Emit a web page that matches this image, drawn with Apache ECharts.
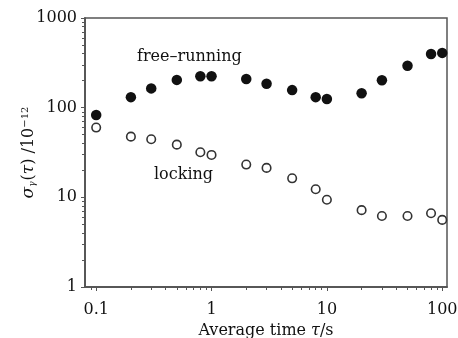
<!DOCTYPE html>
<html>
<head>
<meta charset="utf-8">
<script src="https://cdn.jsdelivr.net/npm/echarts@6/dist/echarts.min.js"></script>
<style>
  html, body { margin: 0; padding: 0; background: #fff; }
  #chart { width: 458px; height: 338px; }
</style>
</head>
<body>
<div id="chart"></div>
<script>
// averaging times (s)
const tau = [0.1, 0.2, 0.3, 0.5, 0.8, 1, 2, 3, 5, 8, 10, 20, 30, 50, 80, 100];
// Allan deviation, units of 1e-12
const freeRunning = [83, 131, 164, 204, 224, 224, 209, 185, 157, 131, 125, 145, 202, 294, 397, 408];
const locking = [60, 47.5, 44.5, 38.7, 31.8, 29.7, 23.2, 21.3, 16.3, 12.3, 9.4, 7.2, 6.2, 6.2, 6.65, 5.6];

// major ticks and minor ticks
const xMajor = [0.1, 1, 10, 100];
const xMinor = [0.09, 0.2, 0.3, 0.4, 0.5, 0.6, 0.7, 0.8, 0.9, 2, 3, 4, 5, 6, 7, 8, 9, 20, 30, 40, 50, 60, 70, 80, 90];
const yMajor = [1, 10, 100, 1000];
const yMinor = [2, 3, 4, 5, 6, 7, 8, 9, 20, 30, 40, 50, 60, 70, 80, 90, 200, 300, 400, 500, 600, 700, 800, 900];

const font = "DejaVu Serif";
const axisColor = "#555";
const X_MIN = 0.08, X_MAX = 110;

const chart = echarts.init(document.getElementById("chart"), null, { renderer: "canvas" });

const option = {
  backgroundColor: "#fff",
  animation: false,
  grid: {
    left: 85,
    right: 11,
    top: 18,
    bottom: 51,
    show: true,
    borderColor: axisColor,
    borderWidth: 1.5,
    containLabel: false,
    outerBoundsMode: "none",
  },
  xAxis: [
    {
      type: "log",
      logBase: 10,
      min: X_MIN,
      max: X_MAX,
      name: "Average time {i|τ}/s",
      nameLocation: "middle",
      nameGap: 35,
      nameTextStyle: {
        fontFamily: font,
        fontSize: 16,
        color: "#111",
        rich: { i: { fontFamily: font, fontSize: 16, fontStyle: "italic", color: "#111" } },
      },
      axisLine: { lineStyle: { color: axisColor, width: 1.5 } },
      axisTick: { inside: false, length: 4, customValues: xMajor, lineStyle: { color: axisColor } },
      splitLine: { show: false },
      axisLabel: {
        fontFamily: font,
        fontSize: 16,
        color: "#111",
        margin: 15,
        customValues: xMajor,
        formatter: (v) => String(v),
      },
    },
    {
      type: "log",
      logBase: 10,
      gridIndex: 0,
      position: "bottom",
      min: X_MIN,
      max: X_MAX,
      axisLine: { show: true, lineStyle: { color: axisColor, width: 1.5 } },
      axisTick: { show: true, inside: false, length: 3, customValues: xMinor, lineStyle: { color: axisColor, width: 1 } },
      axisLabel: { show: false },
      splitLine: { show: false },
    },
  ],
  yAxis: [
    {
      type: "log",
      logBase: 10,
      min: 1,
      max: 1000,
      name: "{i|σ}{sub|γ}({i|τ}) /10{sup|−12}",
      nameLocation: "middle",
      nameRotate: 90,
      nameGap: 48,
      nameMoveOverlap: false,
      nameTextStyle: {
        fontFamily: font,
        fontSize: 16,
        color: "#111",
        rich: {
          i: { fontFamily: font, fontSize: 17, fontStyle: "italic", color: "#111" },
          sub: { fontFamily: font, fontSize: 9, fontStyle: "italic", color: "#111", verticalAlign: "bottom", padding: [0, 1, 0, 0] },
          sup: { fontFamily: font, fontSize: 10, color: "#111", verticalAlign: "top" },
        },
      },
      axisLine: { lineStyle: { color: axisColor, width: 1.5 } },
      axisTick: { inside: false, length: 4, customValues: yMajor, lineStyle: { color: axisColor } },
      splitLine: { show: false },
      axisLabel: {
        fontFamily: font,
        fontSize: 16,
        color: "#111",
        margin: 8,
        customValues: yMajor,
        formatter: (v) => String(v),
      },
    },
    {
      type: "log",
      logBase: 10,
      gridIndex: 0,
      position: "left",
      min: 1,
      max: 1000,
      axisLine: { show: true, lineStyle: { color: axisColor, width: 1.5 } },
      axisTick: { show: true, inside: false, length: 3, customValues: yMinor, lineStyle: { color: axisColor, width: 1 } },
      axisLabel: { show: false },
      splitLine: { show: false },
    },
  ],
  graphic: [
    {
      type: "text",
      left: 137,
      top: 49,
      style: { text: "free–running", font: "16px '" + font + "'", fill: "#111" },
    },
    {
      type: "text",
      left: 154,
      top: 167,
      style: { text: "locking", font: "16px '" + font + "'", fill: "#111" },
    },
  ],
  series: [
    {
      name: "free-running",
      type: "scatter",
      symbol: "circle",
      symbolSize: 10.5,
      itemStyle: { color: "#111", opacity: 1 },
      data: tau.map((t, i) => [t, freeRunning[i]]),
    },
    {
      name: "locking",
      type: "scatter",
      symbol: "circle",
      symbolSize: 8.5,
      itemStyle: { color: "#fff", borderColor: "#333", borderWidth: 1.6, opacity: 1 },
      data: tau.map((t, i) => [t, locking[i]]),
    },
  ],
};

chart.setOption(option);
</script>
</body>
</html>
